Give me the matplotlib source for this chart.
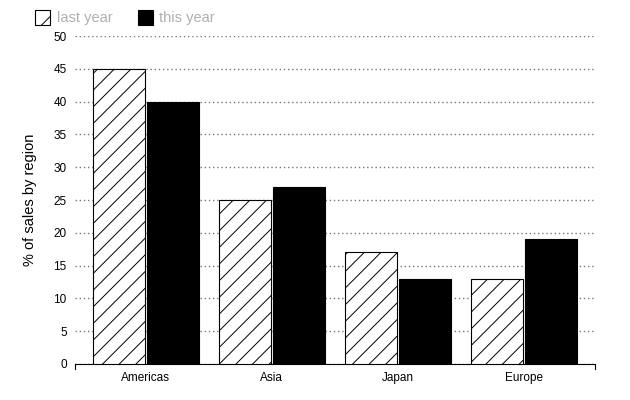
import matplotlib.pyplot as plt
import numpy as np
from matplotlib.patches import Rectangle

plt.rcParams['font.family'] = ['Liberation Sans', 'DejaVu Sans']
plt.rcParams['hatch.linewidth'] = 0.7

regions = ["Americas", "Asia", "Japan", "Europe"]
last_year = [45, 25, 17, 13]
this_year = [40, 27, 13, 19]
y_ticks = list(range(0, 55, 5))

fig = plt.figure(figsize=(6.3, 4), dpi=100)
ax = fig.add_axes([0.119, 0.09, 0.825, 0.82])

x = np.arange(len(regions))
w = 0.41
ax.bar(x - 0.215, last_year, w, color="white", edgecolor="black",
       hatch="//", linewidth=0.8, zorder=3)
ax.bar(x + 0.215, this_year, w, color="black", edgecolor="black",
       linewidth=0.8, zorder=3)

ax.set_xlim(-0.563, 3.563)
ax.set_ylim(0, 50)
ax.set_yticks(y_ticks)
ax.set_xticks(x)
ax.set_xticklabels(regions, fontsize=8.5)
ax.tick_params(axis="y", length=0, labelsize=8.5, pad=6)
ax.tick_params(axis="x", length=0, labelsize=8.5, pad=6)
ax.yaxis.grid(True, linestyle=(0, (1, 2)), color="#777777", linewidth=1)
ax.set_axisbelow(True)
for s in ["top", "right", "left"]:
    ax.spines[s].set_visible(False)
ax.spines["bottom"].set_linewidth(0.8)
# small end ticks on the bottom axis
for xe in ax.get_xlim():
    ax.plot([xe, xe], [0, -0.7], color="black", lw=0.8, clip_on=False)

ax.set_ylabel("% of sales by region", fontsize=10.5, labelpad=12)

# legend above the plot
fig.patches.append(Rectangle((35 / 630, 1 - 25 / 400), 15 / 630, 15 / 400,
                             transform=fig.transFigure, facecolor="white",
                             edgecolor="black", hatch="/", linewidth=0.8))
fig.text(57 / 630, 1 - 18 / 400, "last year", color="#b0b0b0", fontsize=10.5,
         va="center")
fig.patches.append(Rectangle((138 / 630, 1 - 25 / 400), 15 / 630, 15 / 400,
                             transform=fig.transFigure, facecolor="black",
                             edgecolor="black", linewidth=0.8))
fig.text(159 / 630, 1 - 18 / 400, "this year", color="#b0b0b0", fontsize=10.5,
         va="center")

fig.savefig("out.png", dpi=100)
